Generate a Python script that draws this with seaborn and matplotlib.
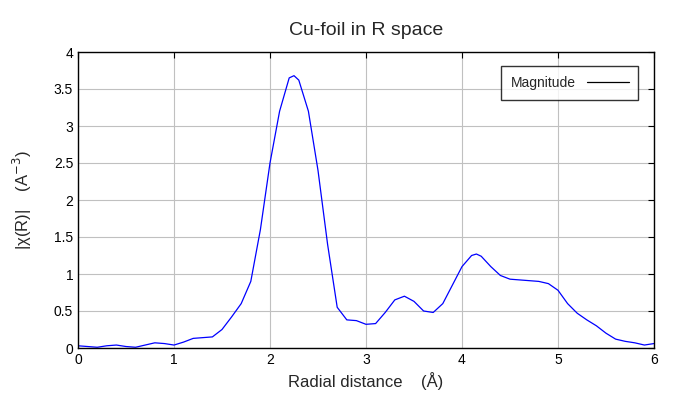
import numpy as np
import pandas as pd
import matplotlib
matplotlib.use("Agg")
import matplotlib.pyplot as plt
import seaborn as sns

r = [0.0, 0.1, 0.2, 0.3, 0.4, 0.5, 0.6, 0.7, 0.8, 0.9, 1.0, 1.1, 1.2, 1.3, 1.4,
     1.5, 1.6, 1.7, 1.8, 1.9, 2.0, 2.1, 2.2, 2.25, 2.3, 2.4, 2.5, 2.6, 2.7, 2.8,
     2.9, 3.0, 3.1, 3.2, 3.3, 3.4, 3.5, 3.6, 3.7, 3.8, 3.9, 4.0, 4.1, 4.15, 4.2,
     4.3, 4.4, 4.5, 4.6, 4.7, 4.8, 4.9, 5.0, 5.1, 5.2, 5.3, 5.4, 5.5, 5.6, 5.7,
     5.8, 5.9, 6.0]
mag = [0.03, 0.02, 0.01, 0.03, 0.04, 0.02, 0.01, 0.04, 0.07, 0.06, 0.04, 0.08,
       0.13, 0.14, 0.15, 0.25, 0.42, 0.6, 0.9, 1.6, 2.5, 3.2, 3.65, 3.68, 3.62,
       3.2, 2.4, 1.4, 0.55, 0.38, 0.37, 0.32, 0.33, 0.48, 0.65, 0.7, 0.63, 0.5,
       0.48, 0.6, 0.85, 1.1, 1.25, 1.27, 1.24, 1.1, 0.98, 0.93, 0.92, 0.91, 0.9,
       0.87, 0.78, 0.6, 0.47, 0.38, 0.3, 0.2, 0.12, 0.09, 0.07, 0.04, 0.06]

df = pd.DataFrame({"r": r, "mag": mag})

sns.set_style("white")
plt.rcParams["font.family"] = ["Liberation Sans", "DejaVu Sans"]

fig = plt.figure(figsize=(6.75, 4.05), dpi=100)
ax = fig.add_axes([78 / 675, 1 - 348 / 405, 576 / 675, 296 / 405])
sns.lineplot(data=df, x="r", y="mag", ax=ax, color="#0000ff", lw=0.9, label="Magnitude")

ax.set_xlim(0, 6)
ax.set_ylim(0, 4)
ax.set_xticks(range(0, 7))
ax.set_yticks([0, 0.5, 1, 1.5, 2, 2.5, 3, 3.5, 4])
ax.set_yticklabels(["0", "0.5", "1", "1.5", "2", "2.5", "3", "3.5", "4"])
ax.grid(True, color="#c0c0c0", lw=0.8)
for s in ax.spines.values():
    s.set_color("black")
    s.set_linewidth(1)
ax.tick_params(direction="in", length=4, labelsize=10, colors="black")
ax.tick_params(top=True, right=True)

ax.set_title("Cu-foil in R space", fontsize=14, pad=12)
ax.set_xlabel("Radial distance    (Å)", fontsize=12)
ax.set_ylabel("|χ(R)|    (A$^{-3}$)", fontsize=12, labelpad=14)

leg = ax.legend(loc="upper right", markerfirst=False, fancybox=False,
                edgecolor="black", fontsize=10, handlelength=3,
                borderpad=0.7, bbox_to_anchor=(0.985, 0.975))
leg.get_frame().set_linewidth(1)
leg.get_lines()[0].set_color("black")

fig.savefig("out.png", dpi=100)
